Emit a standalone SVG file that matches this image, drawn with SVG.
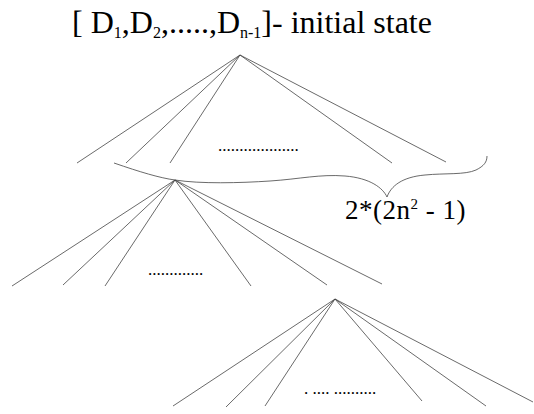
<svg xmlns="http://www.w3.org/2000/svg" width="534" height="414" viewBox="0 0 534 414">
<style>
.e{stroke:#444;stroke-width:0.8;fill:none}
</style>
<rect width="534" height="414" fill="#fff"/>
<g id="title">
<text font-family="Liberation Serif" x="72" y="33" font-size="32">[ D<tspan font-size="16" dy="5">1</tspan><tspan dy="-5">,D</tspan><tspan font-size="16" dy="5">2</tspan><tspan dy="-5">,.....,D</tspan><tspan font-size="16" dy="5">n-1</tspan><tspan dy="-5">]- initial state</tspan></text>
</g>
<g id="connectors">
<path class="e" d="M240,55 L77,163 M240,55 L126,163 M240,55 L170,163 M240,55 L392,163 M240,55 L446,162"/>
<path class="e" d="M175,180 L12,286 M175,180 L63,285 M175,180 L105,286 M175,180 L251,286 M175,180 L327,285 M175,180 L382,284"/>
<path class="e" d="M335,299 L173,406 M335,299 L226,407 M335,299 L265,406 M335,299 L422,401 M335,299 L486,406 M335,299 L533,402"/>
<path class="e" d="M114,163 C140,172 160,178 175,180 C200,184 240,183 270,181 C300,179 320,174 345,176 C370,178 383,188 387,197 C391,186 402,177 425,175 C445,173 465,175 476,170 C484,166 487,162 487,156"/>
</g>
<g id="node-root">
<text font-family="Liberation Serif" font-size="17" x="218" y="151">...................</text>
</g>
<g id="node-child1">
<text font-family="Liberation Serif" font-size="17" x="148" y="275">.............</text>
</g>
<g id="node-child2">
<text font-family="Liberation Serif" font-size="17" x="304" y="394">. .... ..........</text>
</g>
<g id="label">
<text font-family="Liberation Serif" x="345" y="219" font-size="27" letter-spacing="0.5">2*(2n<tspan font-size="15" dy="-10">2</tspan><tspan dy="10"> - 1)</tspan></text>
</g>
</svg>
